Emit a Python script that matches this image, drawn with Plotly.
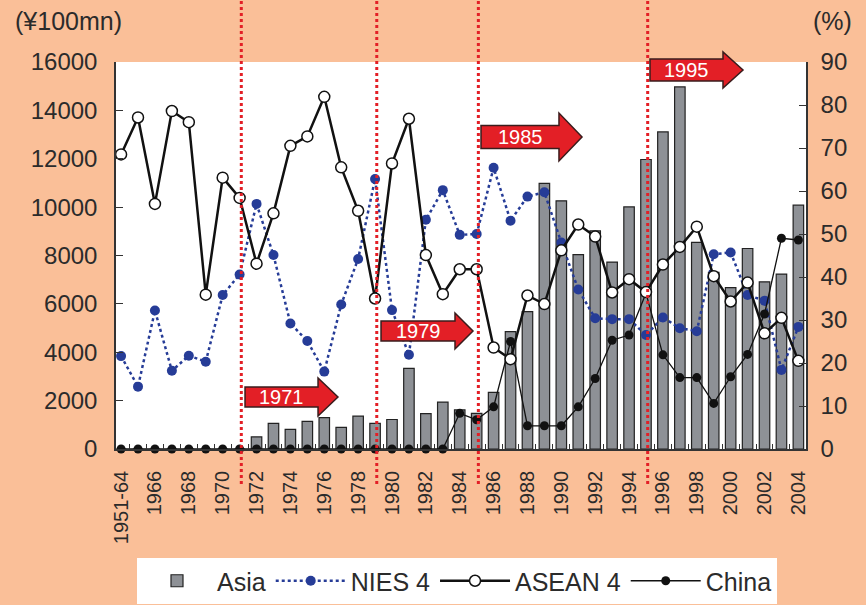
import plotly.graph_objects as go

# Categories: 1951-64 lumped together, then one per year to 2004
YEARS = ["1951-64"] + [str(y) for y in range(1965, 2005)]

# Asia total (left axis, 100 million yen)
ASIA = [0, 0, 0, 0, 0, 0, 0, 0,
        500, 1060, 810, 1140, 1295, 890, 1360, 1060, 1220, 3330,
        1460, 1940, 1620, 1470, 2340, 4850, 5680, 10980, 10260, 8040,
        9020, 7730, 10010, 11970, 13110, 14970, 8540, 7300, 6670, 8290,
        6910, 7230, 10080]

# Shares (right axis, %)
NIES = [21.6, 14.5, 32.2, 18.2, 21.7, 20.3, 35.8, 40.6, 57.0, 45.1,
        29.2, 25.1, 18.0, 33.6, 44.2, 62.8, 32.3, 21.9, 53.3, 60.2,
        49.8, 50.0, 65.4, 53.1, 58.7, 59.7, 48.0, 37.1, 30.4, 30.2,
        30.2, 26.5, 30.6, 28.1, 27.4, 45.3, 45.7, 35.8, 34.5, 18.4, 28.4]
ASEAN = [68.5, 77.1, 57.0, 78.6, 76.0, 35.9, 63.1, 58.4, 43.1, 54.8,
         70.5, 72.7, 81.9, 65.5, 55.4, 35.0, 66.4, 76.8, 45.1, 36.0,
         41.8, 41.8, 23.6, 20.9, 35.7, 33.7, 46.2, 52.2, 49.4, 36.4,
         39.5, 36.5, 42.9, 47.0, 51.7, 40.2, 34.3, 38.7, 26.9, 30.5, 20.5]
CHINA = [0, 0, 0, 0, 0, 0, 0, 0, 0, 0,
         0, 0, 0, 0, 0, 0, 0, 0, 0, 0,
         8.3, 6.8, 9.8, 25.0, 5.4, 5.4, 5.4, 9.8, 16.4, 25.3,
         26.5, 36.2, 21.9, 16.6, 16.6, 10.6, 16.8, 22.0, 31.4, 49.0, 48.6]

# Milestone years marked with a dotted line and an arrow
MILESTONES = ["1971", "1979", "1985", "1995"]

BG = "#FABF98"
INK = "#2b2b2b"
RED = "#E31F26"
BLUE = "#263C97"
FONT = "Liberation Sans, Arial, sans-serif"

W, H = 866, 605
L, R, T, B = 116, 60, 62, 156
PW, PH = W - L - R, H - T - B


def px(x):
    return (x - L) / PW


def py(y):
    return (H - B - y) / PH


fig = go.Figure()
fig.add_bar(x=YEARS, y=ASIA, name="Asia", width=0.62, legendrank=1,
            marker=dict(color="#8E9196", line=dict(color="#222", width=1.2)))
fig.add_scatter(x=YEARS, y=NIES, name="NIES 4", yaxis="y2", mode="lines+markers",
                legendrank=2, line=dict(color=BLUE, width=2.5, dash="dot"),
                marker=dict(color=BLUE, size=10), cliponaxis=False)
fig.add_scatter(x=YEARS, y=CHINA, name="China", yaxis="y2", mode="lines+markers",
                legendrank=4, line=dict(color="#111", width=1.3),
                marker=dict(color="#111", size=9), cliponaxis=False)
fig.add_scatter(x=YEARS, y=ASEAN, name="ASEAN 4", yaxis="y2", mode="lines+markers",
                legendrank=3, line=dict(color="#111", width=2.5),
                marker=dict(color="white", size=11, line=dict(color="#111", width=1.5)),
                cliponaxis=False)

# dotted milestone lines (category index on the x axis)
for yr in MILESTONES:
    i = YEARS.index(yr)
    fig.add_shape(type="line", xref="x", yref="paper", x0=i + 0.1, x1=i + 0.1,
                  y0=py(484), y1=py(0), line=dict(color=RED, width=3, dash="dot"))

# red arrows (pixel geometry: left, head start, tip, centre y, body h, head h)
ARROWS = [("1971", 245, 318, 338, 397, 20, 38),
          ("1979", 381, 455, 473, 331, 20, 36),
          ("1985", 481, 559, 582, 137, 23, 48),
          ("1995", 650, 723, 743, 70, 22, 36)]
for label, x0, xh, xt, yc, bh, hh in ARROWS:
    pts = [(x0, yc - bh / 2), (xh, yc - bh / 2), (xh, yc - hh / 2), (xt, yc),
           (xh, yc + hh / 2), (xh, yc + bh / 2), (x0, yc + bh / 2)]
    path = "M " + " L ".join(f"{px(a):.4f},{py(b):.4f}" for a, b in pts) + " Z"
    fig.add_shape(type="path", xref="paper", yref="paper", path=path,
                  fillcolor=RED, line=dict(color="#3a1c1c", width=1.5))
    fig.add_annotation(text=label, xref="paper", yref="paper",
                       x=px((x0 + xh) / 2), y=py(yc), showarrow=False,
                       xanchor="center", yanchor="middle",
                       font=dict(color="white", size=20, family=FONT))

fig.add_annotation(text="(¥100mn)", xref="paper", yref="paper", x=px(13), y=py(21),
                   xanchor="left", yanchor="middle", showarrow=False,
                   font=dict(size=25, color=INK, family=FONT))
fig.add_annotation(text="(%)", xref="paper", yref="paper", x=px(811), y=py(21),
                   xanchor="left", yanchor="middle", showarrow=False,
                   font=dict(size=25, color=INK, family=FONT))

fig.update_layout(
    width=W, height=H, margin=dict(l=L, r=R, t=T, b=B, autoexpand=False),
    paper_bgcolor=BG, plot_bgcolor="white",
    font=dict(family=FONT, color=INK, size=20),
    bargap=0.3,
    legend=dict(orientation="h", x=px(457), xanchor="center", y=py(558), yanchor="top",
                bgcolor="white", font=dict(size=25), itemwidth=70,
                traceorder="normal"),
    xaxis=dict(type="category", range=[-0.3, 40.45], tickangle=-90,
               tickvals=YEARS, ticktext=[y if i % 2 == 0 else "" for i, y in enumerate(YEARS)],
               ticks="inside", ticklen=5, tickson="boundaries", tickcolor="#333",
               ticklabelstandoff=12,
               showline=True, linecolor="#333", linewidth=1.5, showgrid=False,
               tickfont=dict(size=20)),
    yaxis=dict(range=[0, 16000], dtick=2000, tickformat="d", ticks="inside", ticklen=7,
               tickcolor="#333", showline=True, linecolor="#333", linewidth=1.5,
               ticklabelstandoff=12,
               showgrid=False, zeroline=False, tickfont=dict(size=24)),
    yaxis2=dict(range=[0, 90], dtick=10, overlaying="y", side="right",
                ticks="inside", ticklen=7, tickcolor="#333", ticklabelstandoff=8,
                showline=True, linecolor="#333", linewidth=1.5, showgrid=False,
                zeroline=False, tickfont=dict(size=24)),
)

# the page body has a default 8px margin; drop it so the figure fills the window
fig.write_html("out.html", config={"displayModeBar": False},
               post_script="document.body.style.margin='0';")
